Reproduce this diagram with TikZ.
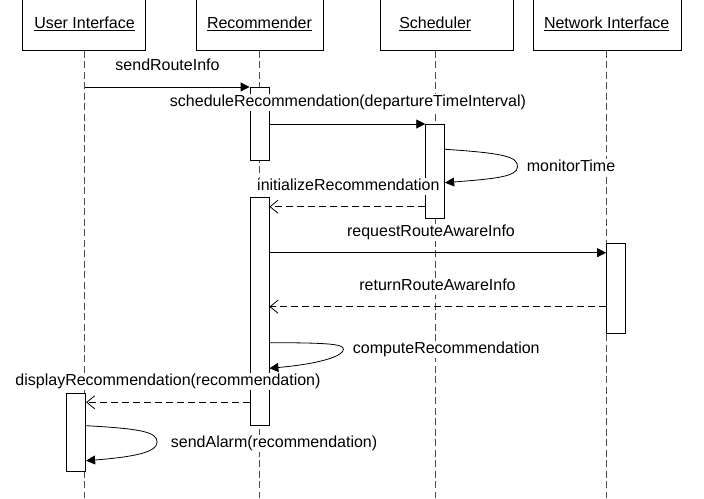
\documentclass[tikz,border=0pt]{standalone}
\usepackage{fontspec}
\setmainfont{Liberation Sans}
\usetikzlibrary{arrows.meta, positioning}

\begin{document}
\begin{tikzpicture}[x=1pt, y=-1pt, line width=0.8pt,
  every node/.style={font=\fontsize{16}{19}\selectfont},
  lifeline/.style={black!70, dash pattern=on 7pt off 3.5pt},
  headbox/.style={draw, fill=white},
  actbox/.style={draw, fill=white, minimum width=19pt, inner sep=0pt, anchor=north},
  call/.style={-{Triangle[length=9pt, width=9pt]}},
  reply/.style={dash pattern=on 7pt off 4pt, -{Straight Barb[length=8pt, width=13pt]}},
  msg/.style={fill=white, inner sep=1pt, text height=11.5pt, text depth=3.5pt}]
\useasboundingbox (0,0) rectangle (704,498);

% HEADS: the four objects and their lifelines
\foreach \id/\lx/\bl/\br/\txt in {ui/84.5/22.7/145.7/User Interface, rec/259.5/196/323.3/Recommender, sch/435.3/380.7/513.3/Scheduler, net/606.7/533.3/681/Network Interface}{
  \draw[headbox] (\bl,-3) rectangle (\br,50.7);
  \node (\id) at (\lx,24) {\underline{\txt}};
  \coordinate (\id-top) at (\lx,50.7);
  \coordinate (\id-bot) at (\lx,498);
  \draw[lifeline] (\id-top) -- (\id-bot);
}

% activations
\node[actbox, minimum height=73pt] (rec1) at (259.5,87) {};
\node[actbox, minimum height=94pt] (sch1) at (435.2,124) {};
\node[actbox, minimum height=227.5pt] (rec2) at (259.5,197) {};
\node[actbox, minimum height=90pt] (net1) at (616,242.7) {};
\node[actbox, minimum height=78.3pt] (ui1) at (76.2,392.7) {};

% message heights
\coordinate (m3a) at (0,149.3);
\coordinate (m3b) at (0,182.7);
\coordinate (m4) at (0,206.7);
\coordinate (m5) at (0,252.7);
\coordinate (m6) at (0,306.7);
\coordinate (m7a) at (0,342.7);
\coordinate (m7b) at (0,368.3);
\coordinate (m8) at (0,402.3);
\coordinate (m9a) at (0,425.7);
\coordinate (m9b) at (0,460.7);

% MESSAGES
\draw[call] (ui-top |- rec1.north) -- (rec1.north west);
\draw[call] (rec1.east |- sch1.north) -- (sch1.north west);
\draw[call] (sch1.east |- m3a) .. controls +(60,4) and +(0,-10) .. ++(72.4,17.4)
  .. controls +(0,10) and +(50,-4) .. (sch1.east |- m3b);
\draw[reply] (sch1.west |- m4) -- (rec2.east |- m4);
\draw[call] (rec2.east |- m5) -- (net1.west |- m5);
\draw[reply] (net1.west |- m6) -- (rec2.east |- m6);
\draw[call] (rec2.east |- m7a) .. controls +(62,0) and +(0,-5) .. ++(74,6.6)
  .. controls +(0,6) and +(55,-5) .. (rec2.east |- m7b);
\draw[reply] (rec2.west |- m8) -- (ui1.east |- m8);
\draw[call] (ui1.east |- m9a) .. controls +(55,3) and +(0,-10) .. ++(71,16.3)
  .. controls +(0,10) and +(50,-4) .. (ui1.east |- m9b);

% labels
\node[msg] (l1) at (167.5,66.5) {sendRouteInfo};
\node[msg] (l2) at (348,102.5) {scheduleRecommendation(departureTimeInterval)};
\node[msg, anchor=west] (l3) at (525.5,167.5) {monitorTime};
\node[msg] (l4) at (348.4,186.5) {initializeRecommendation};
\node[msg] (l5) at (431,232) {requestRouteAwareInfo};
\node[msg] (l6) at (437.5,286.5) {returnRouteAwareInfo};
\node[msg, anchor=west] (l7) at (351.5,349.5) {computeRecommendation};
\node[msg] (l8) at (168,381.5) {displayRecommendation(recommendation)};
\node[msg, anchor=west] (l9) at (169.5,443.5) {sendAlarm(recommendation)};
\end{tikzpicture}
\end{document}
